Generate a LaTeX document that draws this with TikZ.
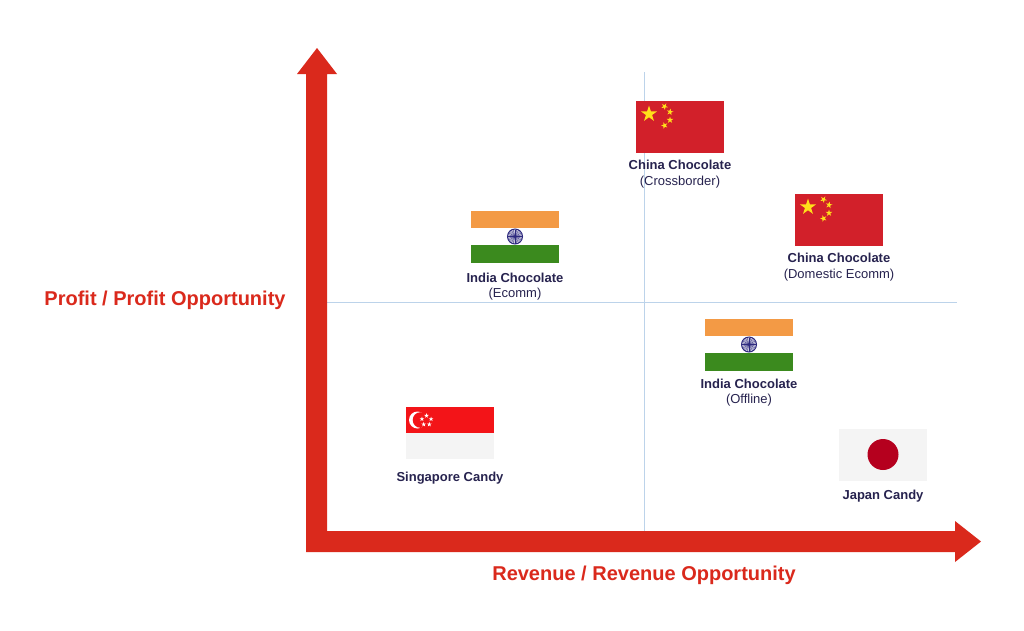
\documentclass[tikz,border=0pt]{standalone}
\usepackage{fontspec}
\setmainfont{Liberation Sans}
\usepackage{xcolor}
\usepackage{tikz}
\usetikzlibrary{positioning,shapes.geometric}

\definecolor{axisred}{HTML}{DA291C}
\definecolor{gridblue}{HTML}{BCD3EA}
\definecolor{navy}{HTML}{27234F}
\definecolor{cnred}{HTML}{D2202A}
\definecolor{cnyellow}{HTML}{FFE01A}
\definecolor{insaffron}{HTML}{F39A45}
\definecolor{ingreen}{HTML}{3B8A1E}
\definecolor{inchakra}{HTML}{2E2A7F}
\definecolor{sgred}{HTML}{F31418}
\definecolor{paleflag}{HTML}{F4F4F4}
\definecolor{jpred}{HTML}{B5001E}

\begin{document}
\begin{tikzpicture}
      [ x=1pt, y=-1pt,
        flag/.style={minimum width=88pt, minimum height=52pt, inner sep=0pt, outer sep=0pt},
        lbl/.style={text=navy, align=center, inner sep=0pt, font=\fontsize{13}{15.5}\selectfont},
        axislbl/.style={text=axisred, font=\fontsize{20}{24}\selectfont\bfseries},
        gridline/.style={draw=gridblue, line width=0.9pt},
        cnstar/.style={star, star points=5, star point ratio=2.618, fill=cnyellow, inner sep=0pt},
        sgstar/.style={star, star points=5, star point ratio=2.618, fill=white, inner sep=0pt, minimum size=5pt}
      ]
      \useasboundingbox[fill=white] (0,0) rectangle (1024,630);

      % quadrant lines
      \coordinate (vtop) at (644,72);
      \coordinate (vbot) at (644,531);
      \coordinate (hleft) at (327,302);
      \coordinate (hright) at (957,302);
      \draw[gridline] (vtop) -- (vbot);
      \draw[gridline] (hleft) -- (hright);

      % axes
      \fill[axisred] (306,552) -- (306,74) -- (297,74) -- (317,48) -- (337,74) -- (327,74)
                     -- (327,531) -- (955,531) -- (955,521) -- (981,541.5) -- (955,562)
                     -- (955,552) -- cycle;

      \node[axislbl] (ylbl) at (165,300) {Profit / Profit Opportunity};
      \node[axislbl] (xlbl) at (644,575) {Revenue / Revenue Opportunity};

      % China (Crossborder)
      \node[flag, fill=cnred] (cnA) at (680,127) {};
      \begin{scope}[shift={(cnA.north west)}]
        \node[cnstar, minimum size=17pt] at (13,13) {};
        \node[cnstar, minimum size=7pt, rotate=-30] at (28.5,5.5) {};
        \node[cnstar, minimum size=7pt, rotate=-10] at (34,11) {};
        \node[cnstar, minimum size=7pt] at (34,19) {};
        \node[cnstar, minimum size=7pt, rotate=20] at (28.5,24.5) {};
      \end{scope}
      \node[lbl, below=7pt of cnA] (cnAtxt) {\textbf{China Chocolate}\\(Crossborder)};

      % China (Domestic Ecomm)
      \node[flag, fill=cnred] (cnB) at (839,220) {};
      \begin{scope}[shift={(cnB.north west)}]
        \node[cnstar, minimum size=17pt] at (13,13) {};
        \node[cnstar, minimum size=7pt, rotate=-30] at (28.5,5.5) {};
        \node[cnstar, minimum size=7pt, rotate=-10] at (34,11) {};
        \node[cnstar, minimum size=7pt] at (34,19) {};
        \node[cnstar, minimum size=7pt, rotate=20] at (28.5,24.5) {};
      \end{scope}
      \node[lbl, below=7pt of cnB] (cnBtxt) {\textbf{China Chocolate}\\(Domestic Ecomm)};

      % India (Ecomm)
      \node[flag, fill=white] (inA) at (515,236.5) {};
      \fill[insaffron] (inA.north west) rectangle ([yshift=-17.33pt]inA.north east);
      \fill[ingreen] ([yshift=17.33pt]inA.south west) rectangle (inA.south east);
      \filldraw[fill=inchakra!25, draw=inchakra, line width=1pt] (inA.center) circle (7.5);
      \foreach \a in {0,15,...,345}
        \draw[inchakra, line width=0.3pt] (inA.center) -- ++(\a:7);
      \fill[inchakra] (inA.center) circle (1.5);
      \node[lbl, below=10pt of inA] (inAtxt) {\textbf{India Chocolate}\\(Ecomm)};

      % India (Offline)
      \node[flag, fill=white] (inB) at (749,344.5) {};
      \fill[insaffron] (inB.north west) rectangle ([yshift=-17.33pt]inB.north east);
      \fill[ingreen] ([yshift=17.33pt]inB.south west) rectangle (inB.south east);
      \filldraw[fill=inchakra!25, draw=inchakra, line width=1pt] (inB.center) circle (7.5);
      \foreach \a in {0,15,...,345}
        \draw[inchakra, line width=0.3pt] (inB.center) -- ++(\a:7);
      \fill[inchakra] (inB.center) circle (1.5);
      \node[lbl, below=8pt of inB] (inBtxt) {\textbf{India Chocolate}\\(Offline)};

      % Singapore
      \node[flag, fill=paleflag] (sg) at (450,433) {};
      \fill[sgred] (sg.north west) rectangle (sg.east);
      \begin{scope}[shift={(sg.north west)}]
        \fill[white] (11.5,13) circle (8.5);
        \fill[sgred] (14.5,13) circle (7.8);
        \foreach \a in {90,162,234,306,378}
          \node[sgstar] at ([shift={(\a:-4.8)}]20.5,13.5) {};
      \end{scope}
      \node[lbl, below=12.5pt of sg] (sgtxt) {\textbf{Singapore Candy}};

      % Japan
      \node[flag, fill=paleflag] (jp) at (883,454.5) {};
      \fill[jpred] (jp.center) circle (15.5);
      \node[lbl, below=9.5pt of jp] (jptxt) {\textbf{Japan Candy}};
    \end{tikzpicture}
\end{document}
